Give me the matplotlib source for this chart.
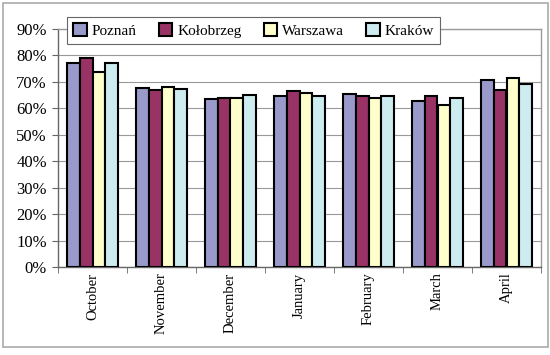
import matplotlib
matplotlib.use("Agg")
import matplotlib.pyplot as plt
import numpy as np
from matplotlib.patches import Rectangle, Patch
from matplotlib.ticker import FuncFormatter, MultipleLocator

months = ["October", "November", "December", "January", "February", "March", "April"]
cities = ["Poznań", "Kołobrzeg", "Warszawa", "Kraków"]
poznan = [77.0, 67.7, 63.4, 64.6, 65.4, 62.8, 70.7]
kolobrzeg = [79.2, 66.8, 63.8, 66.4, 64.5, 64.6, 66.8]
warszawa = [73.6, 68.0, 63.8, 65.7, 64.0, 61.1, 71.6]
krakow = [77.0, 67.3, 65.2, 64.5, 64.5, 63.8, 69.3]
series = [poznan, kolobrzeg, warszawa, krakow]
colors = ["#9999CC", "#993366", "#FFFFCC", "#CCECF0"]

plt.rcParams['font.family'] = ['Liberation Serif', 'DejaVu Serif']

fig = plt.figure(figsize=(5.5, 3.55), dpi=100)
ax = fig.add_axes([58/550, 1-267/355, (541-58)/550, (267-29)/355])

x = np.arange(len(months))
bw = 0.185
for i, (vals, c) in enumerate(zip(series, colors)):
    ax.bar(x + (i - 1.5) * bw, vals, width=bw, color=c, edgecolor="black",
           linewidth=1.5, label=cities[i], zorder=3)

ax.set_xlim(-0.5, len(months) - 0.5)
ax.set_ylim(0, 90)
ax.yaxis.set_major_locator(MultipleLocator(10))
ax.yaxis.set_major_formatter(FuncFormatter(lambda v, p: f"{int(round(v))}%"))
ax.grid(axis="y", color="#999999", linewidth=0.8, zorder=0)
ax.set_axisbelow(True)

ax.set_xticks(x)
ax.set_xticklabels(months, rotation=90, fontsize=10.5, va="top")
ax.tick_params(axis="x", length=0, pad=4)
ax.set_xticks(np.arange(len(months) + 1) - 0.5, minor=True)
ax.tick_params(axis="x", which="minor", length=4, direction="out", color="#666666")
ax.tick_params(axis="y", length=4, direction="out", labelsize=12, color="#666666", pad=4)

for s in ["top", "right"]:
    ax.spines[s].set_color("#999999")
    ax.spines[s].set_linewidth(1.0)
for s in ["left", "bottom"]:
    ax.spines[s].set_color("#666666")
    ax.spines[s].set_linewidth(1.0)

handles = [Patch(facecolor=c, edgecolor="black", linewidth=1.5) for c in colors]
leg = fig.legend(handles, cities, loc="lower left",
                 bbox_to_anchor=(67/550, 1-44/355, (440-67)/550, 40/355),
                 mode="expand", ncol=4, fontsize=11, frameon=True, fancybox=False,
                 edgecolor="#666666", framealpha=1, handlelength=0.9, handleheight=0.9,
                 handletextpad=0.3, borderaxespad=0, columnspacing=1.0)
leg.get_frame().set_linewidth(0.8)

fig.patches.append(Rectangle((3/550, 1-347/355), 545/550, 344/355, transform=fig.transFigure,
                             fill=False, edgecolor="#aaaaaa", linewidth=1.2))

fig.savefig("out.png", dpi=100)
